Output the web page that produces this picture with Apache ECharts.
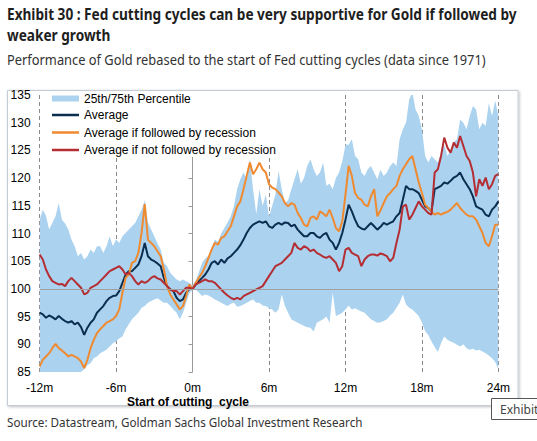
<!DOCTYPE html>
<html>
<head>
<meta charset="utf-8">
<script src="https://cdn.jsdelivr.net/npm/echarts@6/dist/echarts.min.js"></script>
<style>
html,body{margin:0;padding:0;background:#fff;}
#c{width:537px;height:441px;}
</style>
</head>
<body>
<div id="c"></div>
<script>
// ---- Data (months relative to start of Fed cutting cycle, step 0.25m from -12m to 24m) ----
const monthStart = -12;
const monthStep = 0.25;

const average = [
95.7,95.4,94.8,95.2,94.9,94.5,95.1,94.6,94.2,93.9,94.2,93.6,93.9,93.1,91.7,93.0,93.9,94.5,95.7,96.3,96.9,97.8,98.4,98.7,98.8,99.6,101.1,102.6,103.2,103.2,103.8,104.4,105.9,108.3,105.9,105.3,105.0,104.6,104.1,102.0,100.5,99.9,99.6,98.4,97.8,98.1,99.3,100.0,100.0,
100.8,101.4,102.0,102.6,103.5,104.7,105.0,104.4,105.3,104.7,105.5,105.9,106.5,107.1,107.9,108.9,110.1,111.0,111.6,111.9,112.2,111.9,112.2,111.3,111.0,111.6,111.9,111.6,112.0,111.9,111.3,111.6,110.7,110.1,109.5,109.5,110.1,110.1,109.5,109.2,109.8,110.1,108.9,108.3,107.1,108.3,110.1,112.5,
115.2,114.0,112.5,111.3,110.9,110.7,111.3,111.9,111.3,110.7,111.2,111.9,111.6,111.9,112.2,113.1,113.7,116.1,118.6,118.0,118.0,117.7,117.3,116.1,114.9,114.6,114.0,118.0,118.3,118.6,119.2,119.0,119.5,120.1,120.4,121.0,119.8,118.9,118.0,116.7,114.9,114.6,114.3,113.4,113.1,114.3,114.9,115.8
];

const avgRecession = [
86.0,87.2,87.8,88.4,89.3,90.1,89.3,88.9,88.4,87.8,88.1,87.8,87.5,86.9,85.7,87.2,89.3,90.8,92.0,92.7,93.3,93.9,94.2,94.5,95.1,96.3,99.3,102.0,102.6,104.7,105.0,106.5,110.1,115.3,108.9,108.3,107.7,106.8,105.9,103.5,100.5,99.0,98.1,97.2,96.3,96.9,98.7,100.8,100.0,
101.1,102.0,102.9,104.1,105.6,107.1,108.3,108.0,109.2,109.5,110.4,111.3,113.1,114.9,115.8,118.0,120.4,122.8,120.7,121.6,122.8,121.6,121.0,118.9,118.3,118.0,117.4,116.7,115.5,114.9,115.5,115.2,113.7,112.8,111.6,111.3,112.8,113.1,112.5,114.0,113.6,113.1,114.3,112.8,111.0,110.4,112.2,117.0,
122.2,120.4,117.3,116.4,116.1,115.2,114.9,116.7,118.0,113.1,114.2,115.5,116.7,117.3,118.0,118.6,120.4,121.6,122.5,123.4,124.0,121.6,119.2,117.3,115.2,114.6,114.0,113.4,113.7,113.4,113.7,113.9,114.3,114.9,115.5,114.6,114.0,113.4,113.1,113.1,112.5,111.3,110.1,108.3,107.7,109.5,111.6,111.6
];

const avgNoRecession = [
106.2,105.3,103.5,102.3,101.4,101.1,100.8,100.9,100.5,101.4,102.0,101.4,100.8,100.2,99.0,99.3,100.2,100.5,100.8,101.4,102.0,102.6,103.2,103.5,103.8,104.1,103.5,102.6,102.9,102.3,101.4,100.8,101.4,101.1,101.4,102.0,102.3,101.9,101.7,101.1,100.5,99.9,99.6,99.6,99.0,99.6,100.2,100.2,100.0,
100.8,101.1,101.4,101.7,101.4,101.4,101.1,100.5,99.9,99.3,98.8,98.4,98.1,98.4,98.1,98.7,99.0,99.3,99.6,99.9,100.2,100.5,101.4,102.3,103.2,104.1,104.4,104.7,105.3,105.9,106.5,108.3,107.4,107.1,107.7,107.4,106.8,107.1,106.5,106.2,105.8,105.6,105.9,105.3,104.7,103.2,104.1,107.1,
107.4,106.5,106.2,105.9,104.1,105.3,105.9,106.2,106.2,106.0,106.4,106.2,105.9,105.0,105.6,108.3,110.7,114.9,115.2,112.5,113.4,114.6,115.8,114.9,114.3,113.7,113.4,121.0,121.6,124.0,127.3,125.5,124.6,126.4,125.5,127.6,125.8,124.0,123.1,121.0,116.7,119.8,118.6,120.1,118.0,118.9,120.4,120.7
];

const pct25 = [
84,84,84,84,84,84,84,84,84,84,84,84,84.5,85.0,85.5,86.2,86.6,87.5,87.8,88.4,88.7,89.0,89.6,90.2,90.5,91.1,91.4,92.7,93.6,94.5,95.1,95.7,96.6,96.9,97.5,97.8,98.1,98.3,97.9,97.5,97.5,96.9,96.3,95.7,94.5,95.7,97.5,99.2,99.8,
99.9,99.3,98.7,99.0,98.8,98.5,98.1,97.8,97.5,97.2,96.9,97.3,97.5,96.8,96.9,97.2,97.5,97.8,98.1,97.5,97.5,97.0,96.9,96.5,96.3,95.7,96.3,99.0,96.9,95.7,94.5,94.2,93.9,93.6,93.3,93.1,93.0,92.3,93.9,94.2,94.5,95.0,93.9,99.3,95.1,95.4,95.7,96.3,
97.0,96.3,96.5,96.2,95.9,95.7,95.1,94.5,94.2,93.9,94.0,94.2,94.5,95.2,95.7,96.6,97.5,99.0,97.2,96.6,96.3,95.7,95.1,93.9,92.4,91.7,90.5,89.5,88.6,90.2,91.4,90.8,90.5,90.3,89.9,89.6,90.0,89.3,89.0,89.2,88.9,89.0,88.7,88.4,88.0,87.5,86.8,85.4
];

const pct75 = [
112.5,114.3,113.2,110.7,111.9,113.1,115.5,112.5,111.8,110.7,108.9,107.7,105.9,106.5,105.3,105.9,107.1,106.5,107.7,107.7,106.5,107.7,109.5,107.7,108.9,108.3,109.5,110.1,110.7,111.3,111.9,113.1,114.3,116.0,112.0,110.7,109.5,108.2,107.1,104.7,104.1,102.9,102.3,101.7,101.4,101.7,101.4,101.1,100.6,
101.5,103.0,104.7,105.5,106.0,107.5,108.9,108.5,110.0,111.0,112.0,113.1,115.0,118.0,119.8,121.0,119.8,123.4,118.0,113.5,118.0,115.0,117.0,113.0,115.0,117.0,121.3,118.0,115.5,116.0,118.0,119.8,121.6,119.0,120.0,122.2,123.4,121.6,120.4,121.0,122.8,118.6,119.0,118.0,120.0,121.0,123.0,126.0,
126.0,127.0,124.0,123.4,121.0,120.4,121.6,122.2,121.0,119.8,121.5,120.4,121.0,122.2,122.8,122.2,127.0,128.8,130.0,134.2,135.5,132.4,131.2,128.8,124.0,122.8,124.0,123.4,122.8,124.5,126.0,124.0,125.0,126.5,127.0,130.6,130.0,128.8,131.2,133.0,132.4,128.8,130.0,129.4,133.5,131.2,134.0,131.2
];

const xTicks = { min: -12, max: 24, interval: 6 };
const yTicks = { min: 85, max: 135, interval: 5 };
const baseLevel = 100;

const titleLines = ['Exhibit 30 : Fed cutting cycles can be very supportive for Gold if followed by', 'weaker growth'];
const subtitle = 'Performance of Gold rebased to the start of Fed cutting cycles (data since 1971)';
const sourceText = 'Source: Datastream, Goldman Sachs Global Investment Research';
const axisTitle = 'Start of cutting  cycle';
const names = ['25th/75th Percentile', 'Average', 'Average if followed by recession', 'Average if not followed by recession'];

// ---- Build ----
const months = average.map((_, i) => monthStart + i * monthStep);
const pair = arr => arr.map((v, i) => [months[i], v]);
const bandData = months.map((m, i) => [m, pct25[i], pct75[i]]);

const COLORS = { band: '#abd2ef', avg: '#0b2e50', rec: '#f08a30', norec: '#b42e33' };

const mctx = document.createElement('canvas').getContext('2d');
function fitScale(text, font, w) { mctx.font = font; return w / mctx.measureText(text).width; }

function scaledText(text, font, x, y, s, fill) {
  return { type: 'text', x: x, y: y, scaleX: s, z: 10,
    style: { text: text, font: font, fill: fill, x: 0, y: 0, textVerticalAlign: 'middle', textAlign: 'left' } };
}

const chart = echarts.init(document.getElementById('c'), null, { renderer: 'svg', width: 537, height: 441 });

const fTitle = 'bold 16.5px "Noto Sans"';
const fSub = '14px "Noto Sans"';
const fSrc = '13.5px "Noto Sans"';
const sTitle = fitScale(titleLines[0], fTitle, 510);

function renderBand(params, api) {
  if (params.dataIndex !== 0) return null;
  const pts = [];
  for (let i = 0; i < bandData.length; i++) pts.push(api.coord([bandData[i][0], bandData[i][2]]));
  for (let i = bandData.length - 1; i >= 0; i--) pts.push(api.coord([bandData[i][0], bandData[i][1]]));
  const cs = params.coordSys;
  return {
    type: 'polygon', shape: { points: pts }, style: { fill: COLORS.band, stroke: null },
    clipPath: { type: 'rect', shape: { x: cs.x, y: cs.y, width: cs.width, height: cs.height } }
  };
}

chart.setOption({
  animation: false,
  backgroundColor: '#fff',
  grid: { left: 39.6, right: 537 - 498.4, top: 95, bottom: 441 - 372, containLabel: false },
  xAxis: {
    type: 'value', min: xTicks.min, max: xTicks.max, interval: xTicks.interval,
    axisLine: { show: false }, axisTick: { show: false },
    axisLabel: { formatter: v => v + 'm', color: '#000', fontSize: 12, fontFamily: '"Liberation Sans", Arial', margin: 10 },
    splitLine: { show: true, lineStyle: { color: '#8a8a8a', type: [4, 3], width: 1 } }
  },
  yAxis: {
    type: 'value', min: yTicks.min, max: yTicks.max, interval: yTicks.interval,
    axisLine: { show: true, lineStyle: { color: '#9a9a9a', width: 1 } },
    axisTick: { show: true, length: 4, lineStyle: { color: '#9a9a9a' } },
    axisLabel: { color: '#000', fontSize: 12, fontFamily: '"Liberation Sans", Arial', margin: 9 },
    splitLine: { show: false }
  },
  legend: [
    { data: [names[0]], left: 52, top: 91.5, orient: 'vertical', padding: 0, itemWidth: 27, itemHeight: 6, icon: 'rect',
      textStyle: { fontSize: 12, color: '#000', fontFamily: '"Liberation Sans", Arial', lineHeight: 14 } },
    { data: names.slice(1), left: 52, top: 108, orient: 'vertical', padding: 0, itemWidth: 27, itemHeight: 2.5, itemGap: 3.5, icon: 'rect',
      textStyle: { fontSize: 12, color: '#000', fontFamily: '"Liberation Sans", Arial', lineHeight: 14 } }
  ],
  series: [
    { name: names[0], type: 'custom', data: bandData, encode: { x: 0, y: [1, 2] }, renderItem: renderBand,
      itemStyle: { color: COLORS.band }, silent: true, z: 2 },
    { name: 'base', type: 'line', data: pair(average), symbol: 'none', silent: true, lineStyle: { opacity: 0, width: 0 }, z: 2,
      markLine: { silent: true, symbol: ['none', 'none'], label: { show: false }, animation: false,
        lineStyle: { color: '#a0a0a0', type: 'solid', width: 1 }, data: [{ yAxis: baseLevel }] } },
    { name: names[1], type: 'line', data: pair(average), symbol: 'none', itemStyle: { color: COLORS.avg }, lineStyle: { color: COLORS.avg, width: 2 }, z: 3 },
    { name: names[2], type: 'line', data: pair(avgRecession), symbol: 'none', itemStyle: { color: COLORS.rec }, lineStyle: { color: COLORS.rec, width: 2 }, z: 3 },
    { name: names[3], type: 'line', data: pair(avgNoRecession), symbol: 'none', itemStyle: { color: COLORS.norec }, lineStyle: { color: COLORS.norec, width: 2 }, z: 3 }
  ],
  graphic: [
    { type: 'rect', shape: { x: 7.5, y: 90.5, width: 510.5, height: 315 }, z: -1,
      style: { fill: '#fff', stroke: '#c3ccd6', lineWidth: 1, shadowBlur: 3, shadowOffsetX: 1, shadowOffsetY: 1, shadowColor: 'rgba(0,0,0,0.25)' } },
    { type: 'rect', shape: { x: 41, y: 91, width: 245, height: 66 }, z: 1, style: { fill: '#fff' } },
    scaledText(titleLines[0], fTitle, 7, 13.7, sTitle, '#1e1e1e'),
    scaledText(titleLines[1], fTitle, 7, 34.6, sTitle, '#1e1e1e'),
    scaledText(subtitle, fSub, 7, 59.5, fitScale(subtitle, fSub, 479), '#333'),
    scaledText(sourceText, fSrc, 7, 422.5, fitScale(sourceText, fSrc, 356), '#333'),
    { type: 'text', x: 188, y: 402, z: 10, style: { text: axisTitle, font: 'bold 12px "Liberation Sans", Arial', fill: '#000', textAlign: 'center', textVerticalAlign: 'middle' } },
    { type: 'rect', shape: { x: 491.5, y: 398.5, width: 60, height: 21 }, z: 10, style: { fill: '#fff', stroke: '#555', lineWidth: 1 } },
    { type: 'text', x: 500, y: 409.5, z: 11, style: { text: 'Exhibit', font: '12px "Noto Sans"', fill: '#444', textVerticalAlign: 'middle' } }
  ]
});
</script>
</body>
</html>
